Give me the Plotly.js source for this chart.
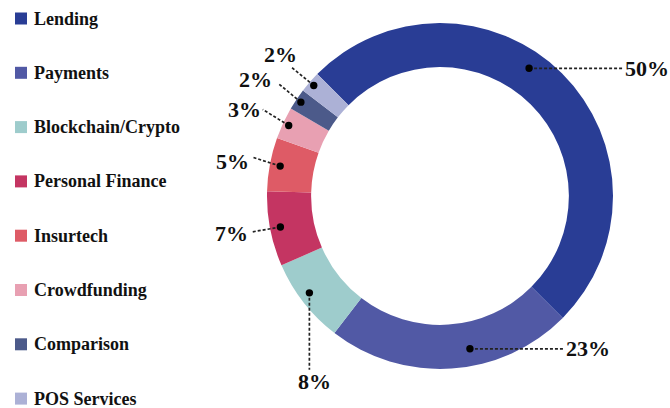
<!DOCTYPE html>
<html>
<head>
<meta charset="utf-8">
<script src="https://cdn.plot.ly/plotly-3.0.1.min.js"></script>
<style>html,body{margin:0;padding:0;background:#fff;}#chart{width:670px;height:408px;}</style>
</head>
<body>
<div id="chart"></div>
<script>
// ---- data ----
var categories = ["Lending", "Payments", "Blockchain/Crypto", "Personal Finance", "Insurtech", "Crowdfunding", "Comparison", "POS Services"];
var shares = [50, 23, 8, 7, 5, 3, 2, 2];
var sliceColors = ["#293d95", "#5159a5", "#9ecccc", "#c43562", "#de5b66", "#e8a0b2", "#4c5a8a", "#acb1d6"];

// ---- layout / style config ----
var W = 670, H = 408;
var pieBox = {x0: 267, x1: 613, y0: 23, y1: 369};   // pixel box of the donut
var hole = 0.745;
var rotation = -45.2;
var font = "'Liberation Serif', 'Times New Roman', serif";
// per-label leader style: anchor position within slice (angular fraction, radial fraction),
// line end offset and text offset from the anchor dot
var labelStyle = [
  {f: 0.445, rf: 0.90, lx: 93, ly: 0, tx: 95, ty: 0, xa: "left"},
  {f: 0.412, rf: 0.90, lx: 93, ly: 0, tx: 95, ty: 0, xa: "left"},
  {f: 0.55, rf: 0.94, lx: 0, ly: 77, tx: 5, ty: 89, xa: "center"},
  {f: 0.5, rf: 0.94, lx: -29, ly: 5, tx: -31, ty: 6, xa: "right"},
  {f: 0.5, rf: 0.94, lx: -28, ly: -9, tx: -30, ty: -5, xa: "right"},
  {f: 0.5, rf: 0.965, lx: -26, ly: -16, tx: -27, ty: -16, xa: "right"},
  {f: 0.5, rf: 0.97, lx: -23, ly: -19, tx: -28, ty: -23, xa: "right"},
  {f: 0.5, rf: 0.97, lx: -22, ly: -18, tx: -33, ty: -31, xa: "center"}
];
var legendStyle = {x: 21, y0: 18.5, step: 54.3, textX: 33, size: 12};
var dotR = 3.7;

// ---- geometry derived from data ----
var cx = (pieBox.x0 + pieBox.x1) / 2, cy = (pieBox.y0 + pieBox.y1) / 2;
var R = Math.min(pieBox.x1 - pieBox.x0, pieBox.y1 - pieBox.y0) / 2;
var total = shares.reduce(function (a, b) { return a + b; }, 0);

var traces = [];
traces.push({
  type: "pie",
  labels: categories,
  values: shares,
  sort: false,
  direction: "clockwise",
  rotation: rotation,
  hole: hole,
  textinfo: "none",
  hoverinfo: "label+percent",
  marker: {colors: sliceColors, line: {width: 0}},
  domain: {x: [pieBox.x0 / W, pieBox.x1 / W], y: [1 - pieBox.y1 / H, 1 - pieBox.y0 / H]},
  showlegend: false
});

var annotations = [];
var shapes = [];
var cum = 0;
for (var i = 0; i < shares.length; i++) {
  var st = labelStyle[i];
  var a0 = rotation + cum / total * 360;
  var a1 = rotation + (cum + shares[i]) / total * 360;
  cum += shares[i];
  var ang = (a0 + (a1 - a0) * st.f) * Math.PI / 180;
  var r = R * st.rf;
  var px = cx + r * Math.sin(ang), py = cy - r * Math.cos(ang);
  shapes.push({
    type: "line", xref: "x", yref: "y", layer: "above",
    x0: px, y0: py, x1: px + st.lx, y1: py + st.ly,
    line: {color: "#222", width: 1.7, dash: "3px,2px"}
  });
  shapes.push({
    type: "circle", xref: "x", yref: "y", layer: "above",
    x0: px - dotR, x1: px + dotR, y0: py - dotR, y1: py + dotR,
    fillcolor: "#000", line: {width: 0}
  });
  annotations.push({
    xref: "x", yref: "y", x: px + st.tx, y: py + st.ty,
    text: "<b>" + Math.round(shares[i] / total * 100) + "%</b>",
    showarrow: false, xanchor: st.xa, yanchor: "middle",
    font: {family: font, size: 22, color: "#111"}, borderpad: 0
  });
}

// legend drawn from categories
var lx = [], ly = [];
for (var j = 0; j < categories.length; j++) {
  var yy = legendStyle.y0 + j * legendStyle.step;
  lx.push(legendStyle.x); ly.push(yy);
  annotations.push({
    xref: "x", yref: "y", x: legendStyle.textX, y: yy,
    text: "<b>" + categories[j] + "</b>",
    showarrow: false, xanchor: "left", yanchor: "middle",
    font: {family: font, size: 18, color: "#111"}, borderpad: 0
  });
}
traces.push({
  type: "scatter", mode: "markers", x: lx, y: ly,
  marker: {symbol: "square", size: legendStyle.size, color: sliceColors, line: {width: 0}},
  hoverinfo: "skip", showlegend: false
});

var layout = {
  width: W, height: H,
  margin: {l: 0, r: 0, t: 0, b: 0, pad: 0},
  paper_bgcolor: "#fff", plot_bgcolor: "rgba(0,0,0,0)",
  showlegend: false,
  xaxis: {range: [0, W], visible: false, fixedrange: true},
  yaxis: {range: [H, 0], visible: false, fixedrange: true},
  annotations: annotations,
  shapes: shapes
};

Plotly.newPlot("chart", traces, layout, {displayModeBar: false, staticPlot: true});
</script>
</body>
</html>
